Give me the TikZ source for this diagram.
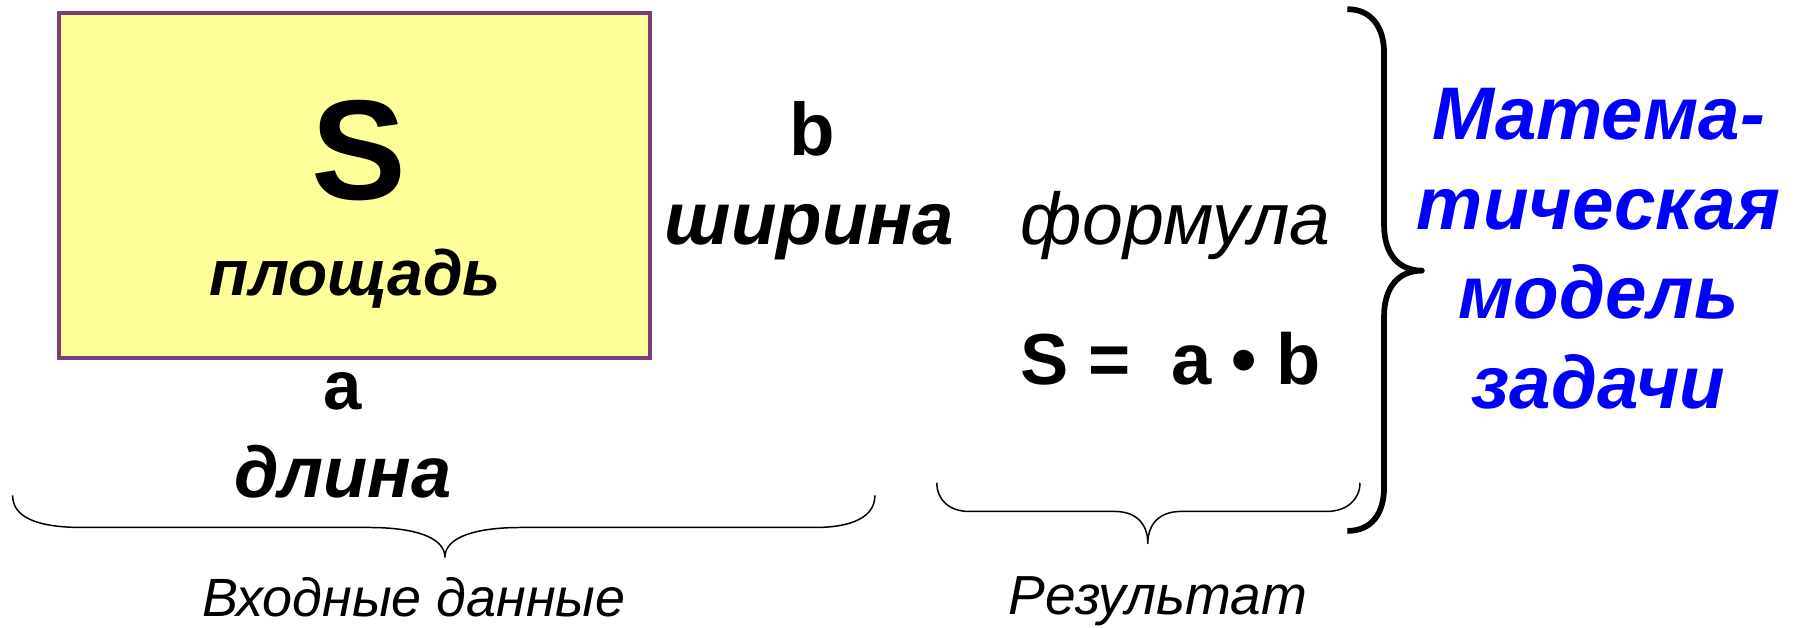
\documentclass[tikz,border=0pt]{standalone}
\usepackage{fontspec}
\setmainfont{Liberation Sans}
\definecolor{boxfill}{RGB}{255,255,153}
\definecolor{boxedge}{RGB}{120,64,118}
\definecolor{mblue}{RGB}{0,0,255}
\begin{document}
\begin{tikzpicture}[x=1pt,y=-1pt,
  txt/.style={inner sep=0pt, anchor=base},
  fb/.style={txt, font=\bfseries\fontsize{#1}{#1}\selectfont},
  fbi/.style={txt, font=\bfseries\itshape\fontsize{#1}{#1}\selectfont},
  fi/.style={txt, font=\itshape\fontsize{#1}{#1}\selectfont},
  thinbr/.style={draw=black, line width=1.3pt, line join=round},
  bigbr/.style={draw=black, line width=5pt, line join=round},
  blue/.style={fbi=65, text=mblue}]
\useasboundingbox (0,0) rectangle (1568,547);

% rectangle
\node[draw=boxedge, fill=boxfill, line width=3.5pt, minimum width=515pt, minimum height=301pt, inner sep=0pt] (rect) at (309,162) {};
\node[fb=124] (S) at (313,174) {S};
\node[fbi=56] (area) at (310,258) {площадь};

\node[fb=65] (b) at (708,136) {b};
\node[fbi=65] (width) at (706,213) {ширина};

\node[fb=60] (a) at (299,357) {a};
\node[fbi=63] (len) at (299,434) {длина};

\node[fi=47] (inp) at (361,538) {Входные данные};

\node[fi=64] (formula) at (1025,213) {формула};
\node[fb=63] (eq) at (1021,335) {S~=~~a~•~b};
\node[fi=48] (res) at (1010,536) {Результат};

\node[blue] (m1) at (1394,122) {Матема-};
\node[blue] (m2) at (1394,200) {тическая};
\node[blue] (m3) at (1394,278) {модель};
\node[blue] (m4) at (1394,356) {задачи};

% braces
\draw[thinbr] (11,432) .. controls (11,450) and (30,460) .. (72,460) -- (322,460)
  .. controls (360,460) and (388,468) .. (388,486)
  .. controls (388,468) and (416,460) .. (454,460) -- (710,460)
  .. controls (745,460) and (763,450) .. (763,432);
\draw[thinbr] (817,421) .. controls (817,436) and (828,446) .. (845,446) -- (972,446)
  .. controls (990,446) and (1001,456) .. (1001,474)
  .. controls (1001,456) and (1012,446) .. (1030,446) -- (1157,446)
  .. controls (1174,446) and (1186,436) .. (1186,421);
\draw[bigbr] (1175,8) .. controls (1196,8) and (1207,24) .. (1207,46) -- (1207,196)
  .. controls (1207,222) and (1220,236) .. (1240,236)
  .. controls (1220,236) and (1207,250) .. (1207,276) -- (1207,425)
  .. controls (1207,448) and (1196,463) .. (1175,463);
\end{tikzpicture}
\end{document}
